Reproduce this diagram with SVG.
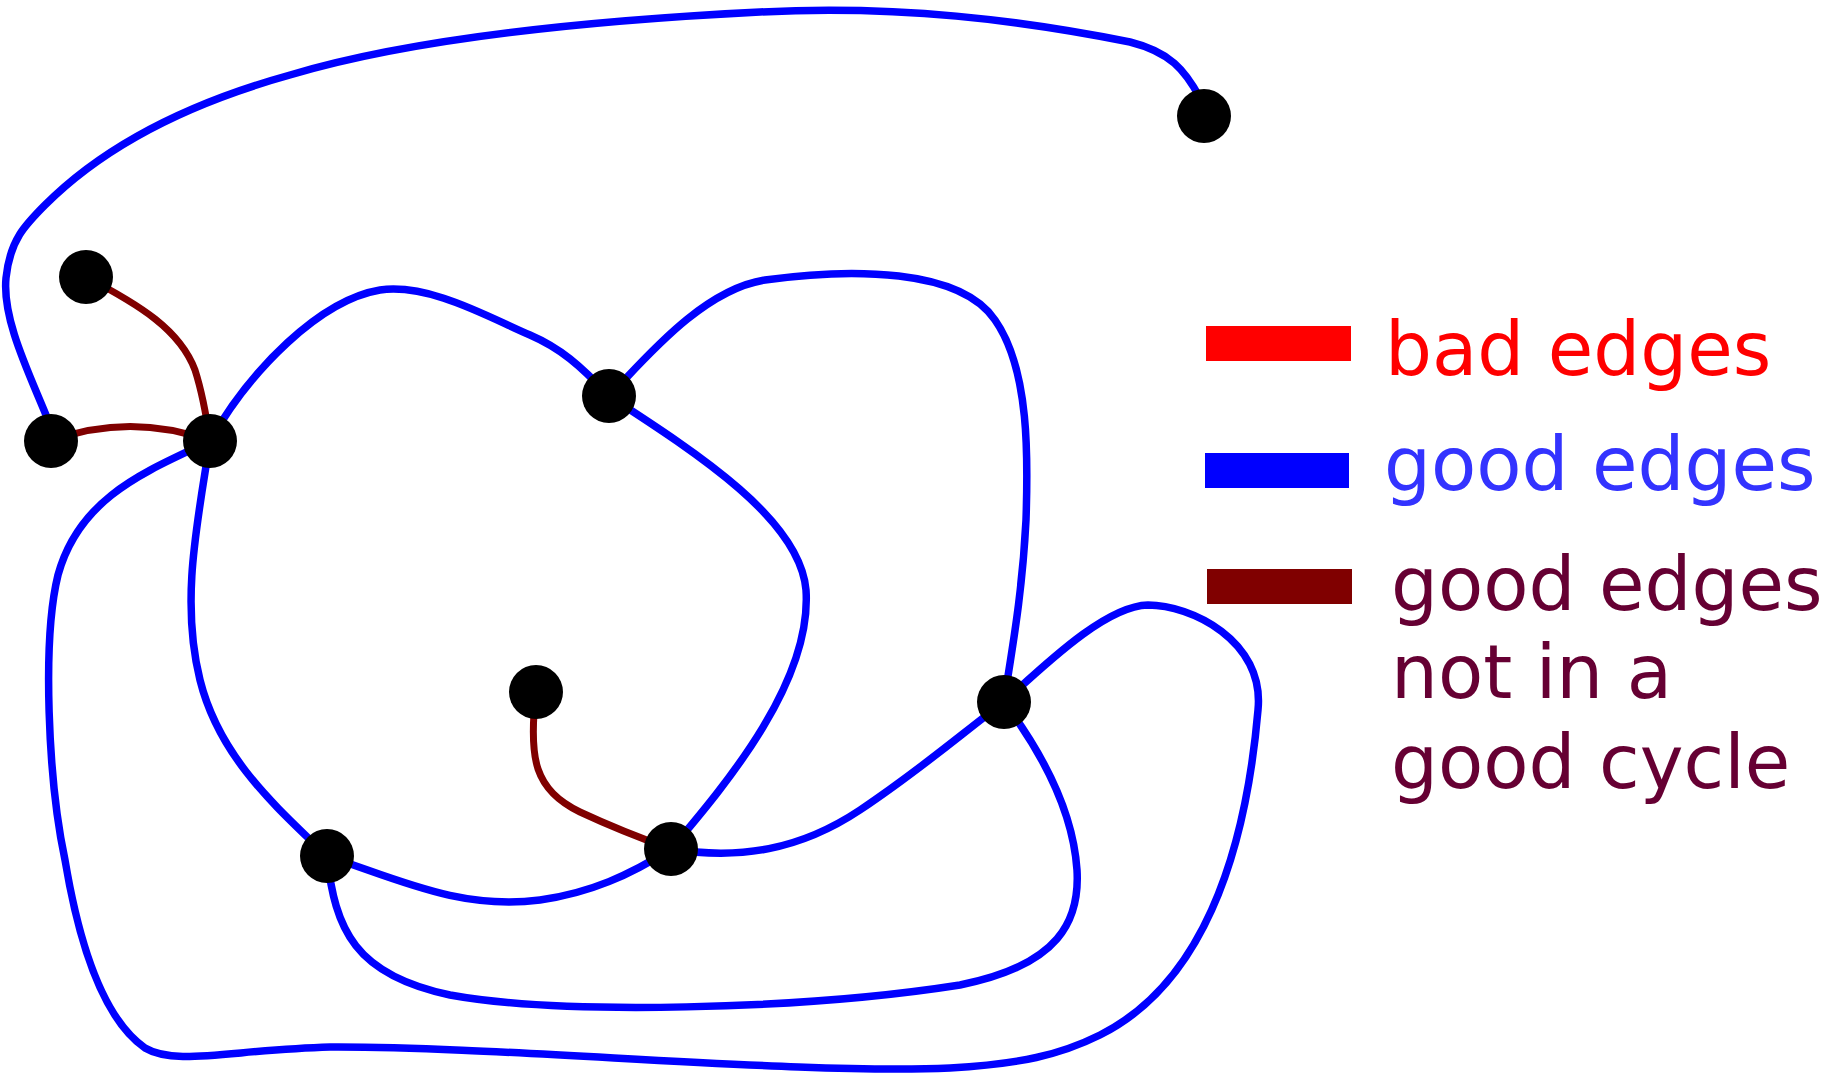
<svg xmlns="http://www.w3.org/2000/svg" width="1823" height="1074" viewBox="0 0 1823 1074">
<style>
.e{fill:none;stroke-width:7.5;stroke-linecap:round}
.g{stroke:#0000ff}
.m{stroke:#800000;stroke-width:7}
.n{fill:#000}
.t{font-family:"DejaVu Sans",Verdana,sans-serif;font-size:74px}
</style>
<rect width="1823" height="1074" fill="#fff"/>
<g id="connectors">
<path class="e g" d="M 48 420 C 30 375, 2 320, 6 278 C 10 240, 25 225, 45 205 C 110 140, 200 100, 290 75 C 400 42, 560 22, 760 12 C 900 5, 1020 20, 1130 42 C 1170 52, 1185 70, 1200 98"/>
<path class="e m" d="M 86 277 C 140 305, 180 330, 195 370 C 203 395, 207 420, 210 441"/>
<path class="e m" d="M 51 441 Q 130 412, 210 441"/>
<path class="e g" d="M 210 441 C 250 370, 320 300, 380 290 C 430 283, 490 318, 530 335 C 560 348, 580 365, 609 396"/>
<path class="e g" d="M 609 396 C 640 365, 700 290, 765 280 C 850 268, 960 268, 995 320 C 1030 370, 1028 460, 1026 520 C 1022 600, 1010 660, 1004 702"/>
<path class="e g" d="M 609 396 C 700 455, 800 520, 806 590 C 812 680, 730 780, 671 849"/>
<path class="e g" d="M 210 441 C 198 520, 180 600, 200 680 C 220 760, 280 810, 327 856"/>
<path class="e g" d="M 210 441 C 150 470, 80 495, 58 575 C 42 640, 48 780, 65 860 C 80 950, 105 1020, 145 1048 C 175 1066, 230 1050, 330 1047 C 500 1046, 800 1075, 950 1068 C 1020 1064, 1060 1055, 1100 1035 C 1200 985, 1245 860, 1258 710 C 1265 640, 1190 605, 1148 605 C 1110 606, 1060 650, 1004 702"/>
<path class="e g" d="M 327 856 C 400 880, 460 910, 540 900 C 590 893, 630 875, 671 849"/>
<path class="e g" d="M 327 856 C 335 930, 355 975, 450 995 C 560 1015, 800 1010, 960 985 C 1060 965, 1080 920, 1077 870 C 1073 810, 1040 750, 1004 702"/>
<path class="e g" d="M 671 849 C 740 860, 800 850, 860 810 C 920 770, 960 735, 1004 702"/>
<path class="e m" d="M 536 692 C 528 760, 535 790, 580 812 C 610 826, 640 838, 671 849"/>
</g>
<g id="n1"><circle class="n" cx="1204" cy="116" r="27"/></g>
<g id="n2"><circle class="n" cx="86" cy="277" r="27"/></g>
<g id="n3"><circle class="n" cx="51" cy="441" r="27"/></g>
<g id="n4"><circle class="n" cx="210" cy="441" r="27"/></g>
<g id="n5"><circle class="n" cx="609" cy="396" r="27"/></g>
<g id="n6"><circle class="n" cx="536" cy="692" r="27"/></g>
<g id="n7"><circle class="n" cx="327" cy="856" r="27"/></g>
<g id="n8"><circle class="n" cx="671" cy="849" r="27"/></g>
<g id="n9"><circle class="n" cx="1004" cy="702" r="27"/></g>
<g id="legend">
<rect x="1206" y="326" width="145" height="35" fill="#ff0000"/>
<rect x="1205" y="453" width="144" height="35" fill="#0000ff"/>
<rect x="1207" y="569" width="145" height="35" fill="#800000"/>
<text class="t" x="1385" y="375" fill="#ff0000">bad edges</text>
<text class="t" x="1384" y="490" fill="#3333ff">good edges</text>
<text class="t" fill="#660033"><tspan x="1391" y="610">good edges</tspan><tspan x="1391" y="698">not in a</tspan><tspan x="1391" y="788">good cycle</tspan></text>
</g>
</svg>
